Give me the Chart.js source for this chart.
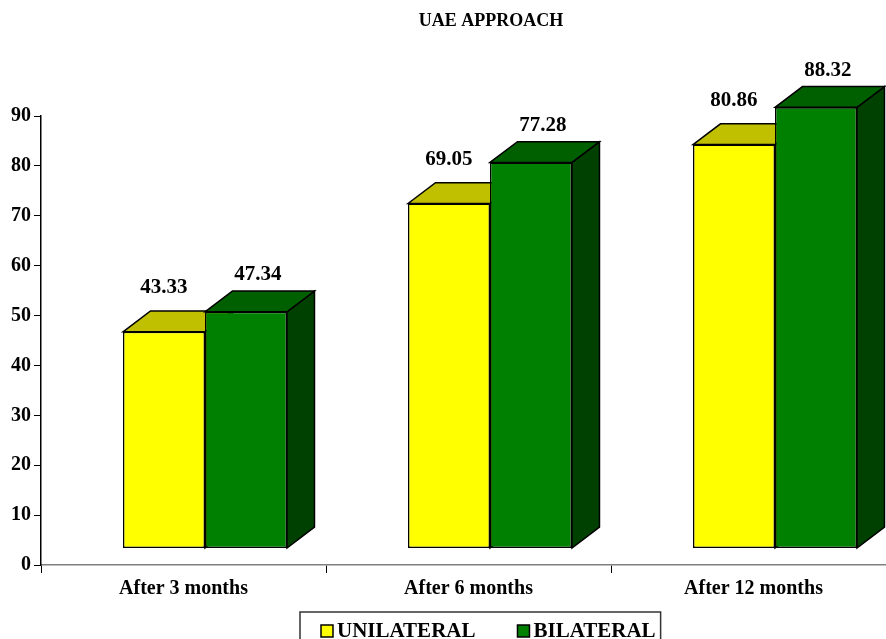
<!DOCTYPE html>
<html>
<head>
<meta charset="utf-8">
<title>UAE APPROACH</title>
<script src="https://cdn.jsdelivr.net/npm/chart.js@4"></script>
<style>
  html, body { margin: 0; padding: 0; background: #ffffff; overflow: hidden; }
  #wrap { position: relative; width: 896px; height: 660px; }
</style>
</head>
<body>
<div id="wrap"><canvas id="chart"></canvas></div>
<script>
// ---- data ----
const categories = ['After 3 months', 'After 6 months', 'After 12 months'];
const seriesNames = ['UNILATERAL', 'BILATERAL'];
const unilateral = [43.33, 69.05, 80.86];
const bilateral = [47.34, 77.28, 88.32];
const yMin = 0, yMax = 90, yStep = 10;
const titleText = 'UAE APPROACH';

// ---- look ----
const FONT = "'Liberation Serif', 'Times New Roman', Times, serif";
const DEPTH_X = 27.5;      // 3D depth offset of the back face
const DEPTH_Y = -20.8;
const FRONT_DROP = 3.41;   // front faces sit a little below the axis zero
const BAR_SHIFT = 0.0754;  // bar pair sits right of the category centre
const styles = [
  { front: '#FFFF00', top: '#C0C000', side: '#808000', labelShift: 0, labelLift: 23 },
  { front: '#008000', top: '#006000', side: '#004000', labelShift: 12, labelLift: 16 }
];

function seriesData(values) {
  return values.map((v, i) => ({ x: i, y: v }));
}

// Top and side faces drawn behind the front faces
const bars3d = {
  id: 'bars3d',
  beforeDatasetsDraw(chart) {
    const ctx = chart.ctx;
    ctx.save();
    ctx.lineWidth = 1.5;
    ctx.strokeStyle = '#000';
    ctx.lineJoin = 'miter';
    const n = categories.length;
    for (let i = 0; i < n; i++) {
      chart.data.datasets.forEach((ds, d) => {
        const el = chart.getDatasetMeta(d).data[i];
        if (!el) return;
        const p = el.getProps(['x', 'y', 'base', 'width'], true);
        const l = p.x - p.width / 2, r = p.x + p.width / 2;
        const t = p.y, b = p.base;
        // side
        ctx.beginPath();
        ctx.moveTo(r, t);
        ctx.lineTo(r + DEPTH_X, t + DEPTH_Y);
        ctx.lineTo(r + DEPTH_X, b + DEPTH_Y);
        ctx.lineTo(r, b);
        ctx.closePath();
        ctx.fillStyle = styles[d].side;
        ctx.fill();
        ctx.stroke();
        // top
        ctx.beginPath();
        ctx.moveTo(l, t);
        ctx.lineTo(l + DEPTH_X, t + DEPTH_Y);
        ctx.lineTo(r + DEPTH_X, t + DEPTH_Y);
        ctx.lineTo(r, t);
        ctx.closePath();
        ctx.fillStyle = styles[d].top;
        ctx.fill();
        ctx.stroke();
      });
    }
    ctx.restore();
  },
  afterDatasetsDraw(chart) {
    const ctx = chart.ctx;
    ctx.save();
    ctx.fillStyle = '#000';
    ctx.font = 'bold 21px ' + FONT;
    ctx.textAlign = 'center';
    ctx.textBaseline = 'middle';
    chart.data.datasets.forEach((ds, d) => {
      chart.getDatasetMeta(d).data.forEach((el, i) => {
        const p = el.getProps(['x', 'y'], true);
        const v = ds.data[i].y;
        ctx.fillText(v.toFixed(2), p.x + styles[d].labelShift, p.y + DEPTH_Y - styles[d].labelLift);
      });
    });
    ctx.restore();
  },
  afterDraw(chart) {
    const ctx = chart.ctx;
    const area = chart.chartArea;
    ctx.save();
    // title
    ctx.fillStyle = '#000';
    ctx.font = 'bold 18px ' + FONT;
    ctx.textAlign = 'center';
    ctx.textBaseline = 'middle';
    ctx.fillText(titleText, 491, 21);

    // legend
    ctx.font = 'bold 21px ' + FONT;
    const boxTop = area.bottom + 47;
    const sq = 12;
    const sqTop = boxTop + 13;
    let x = 321;
    const items = chart.data.datasets.map((ds, d) => ({ text: ds.label, color: styles[d].front }));
    const startX = x;
    items.forEach((it, k) => {
      ctx.fillStyle = it.color;
      ctx.fillRect(x, sqTop, sq, sq);
      ctx.lineWidth = 1.5;
      ctx.strokeStyle = '#000';
      ctx.strokeRect(x, sqTop, sq, sq);
      ctx.fillStyle = '#000';
      ctx.textAlign = 'left';
      ctx.fillText(it.text, x + sq + 4, sqTop + sq / 2 + 1);
      const w = ctx.measureText(it.text).width;
      x = x + sq + 4 + w + (k < items.length - 1 ? 42 : 0);
    });
    ctx.lineWidth = 1.5;
    ctx.strokeStyle = '#333';
    ctx.strokeRect(startX - 21, boxTop, (x + 5) - (startX - 21), 60);
    ctx.restore();
  }
};

const cfg = {
  type: 'bar',
  data: {
    labels: categories,
    datasets: [unilateral, bilateral].map((vals, d) => ({
      label: seriesNames[d],
      data: seriesData(vals),
      xAxisID: 'xb',
      yAxisID: 'yb',
      clip: false,
      backgroundColor: styles[d].front,
      borderColor: '#000',
      borderWidth: 1.5,
      borderSkipped: false,
      barPercentage: 1,
      categoryPercentage: 0.5754
    }))
  },
  options: {
    responsive: true,
    maintainAspectRatio: false,
    animation: false,
    layout: { padding: { top: 116, left: 0, right: 0, bottom: 55 } },
    plugins: {
      legend: { display: false },
      title: { display: false },
      tooltip: { enabled: false }
    },
    scales: {
      x: {
        type: 'category',
        position: 'bottom',
        offset: true,
        ticks: {
          color: '#000',
          font: { family: FONT, size: 20, weight: 'bold' },
          padding: 4,
          maxRotation: 0,
          autoSkip: false
        },
        grid: { offset: true, drawOnChartArea: false, tickLength: 8, color: '#000', lineWidth: 1 },
        border: { color: '#808080', width: 1.5 },
        afterFit(s) { s.height = 40; }
      },
      y: {
        type: 'linear',
        position: 'left',
        min: yMin,
        max: yMax,
        ticks: {
          stepSize: yStep,
          color: '#000',
          font: { family: FONT, size: 20, weight: 'bold' },
          padding: 3
        },
        grid: { drawOnChartArea: false, tickLength: 7, color: '#000', lineWidth: 1 },
        border: { color: '#000', width: 1.5 },
        afterFit(s) { s.width = 41; }
      },
      xb: {
        type: 'linear',
        display: false,
        offset: false,
        grid: { offset: false },
        min: -0.5 - BAR_SHIFT,
        max: categories.length - 0.5 - BAR_SHIFT,
        // one tick per category keeps the bar slot a full category wide
        afterBuildTicks(s) { s.ticks = categories.map((c, i) => ({ value: i })); }
      },
      yb: {
        type: 'linear',
        display: false,
        min: yMin - FRONT_DROP,
        max: yMax - FRONT_DROP
      }
    }
  },
  plugins: [bars3d]
};

new Chart(document.getElementById('chart'), cfg);
</script>
</body>
</html>
